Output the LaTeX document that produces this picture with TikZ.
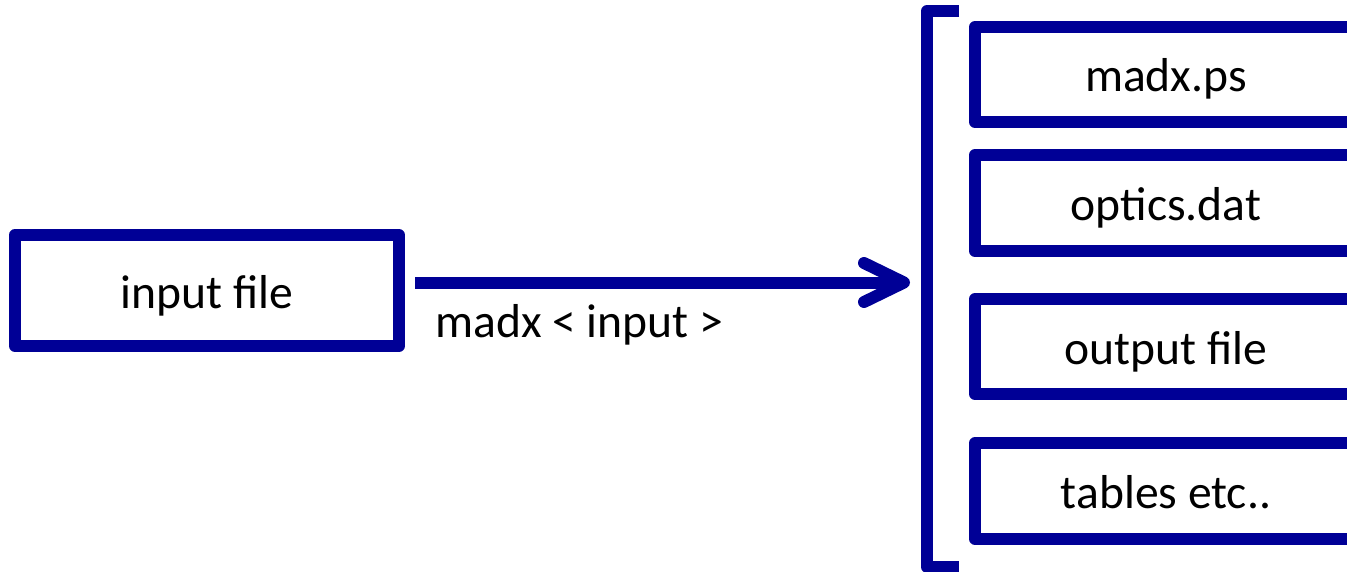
\documentclass[tikz,border=0pt]{standalone}
\usepackage{fontspec}
\setmainfont{Carlito}
\definecolor{boxblue}{RGB}{0,0,150}
\begin{document}
\begin{tikzpicture}[x=1pt,y=-1pt,
  filebox/.style={draw=boxblue, line width=12pt, line join=round, rectangle,
    inner sep=0pt, minimum width=#1, text height=40pt, text depth=5pt,
    font=\fontsize{47.6}{57}\selectfont},
  connector/.style={draw=boxblue, line width=12pt},
  lbl/.style={inner sep=0pt, font=\fontsize{47.6}{57}\selectfont}]
\useasboundingbox (0,0) rectangle (1347,572);
% left box
\node[filebox=384pt, minimum height=111pt] (in) at (207,290.5) {input file};
% right boxes
\node[filebox=382pt, minimum height=95pt] (ps) at (1166,74.5) {madx.ps};
\node[filebox=382pt, minimum height=96pt] (opt) at (1166,203) {optics.dat};
\node[filebox=382pt, minimum height=95pt] (out) at (1166,346.5) {output file};
\node[filebox=382pt, minimum height=95.5pt] (tab) at (1166,491) {tables etc..};
% bracket
\coordinate (bt) at (959,11);
\coordinate (bb) at (959,567);
\draw[connector, line join=round] (bt) -- (927,11) -- (927,567) -- (bb);
% arrow
\coordinate (tip) at (904,282.5);
\draw[connector] ([xshift=10pt]in.east |- tip) -- (tip);
\draw[connector, line cap=round, line join=round] (864,263) -- (tip) -- (864,302);
% label
\node[lbl, anchor=base west] (cmd) at (435,337) {madx < input >};
\end{tikzpicture}
\end{document}
